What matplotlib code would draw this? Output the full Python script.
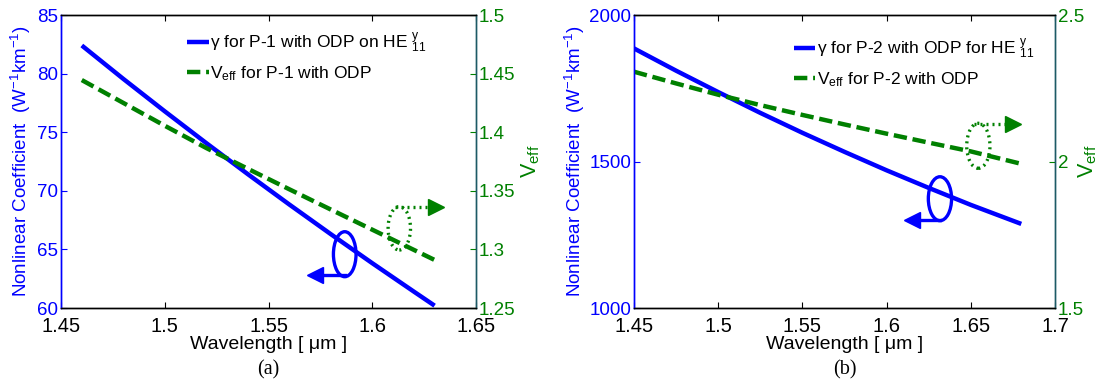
import matplotlib
matplotlib.use("Agg")
import matplotlib.pyplot as plt
from matplotlib.patches import Ellipse
from matplotlib.ticker import FuncFormatter, FixedLocator

plt.rcParams['font.family'] = ['Liberation Sans', 'DejaVu Sans']
plt.rcParams['mathtext.fontset'] = 'custom'
plt.rcParams['mathtext.rm'] = 'Liberation Sans'
plt.rcParams['mathtext.it'] = 'Liberation Sans:italic'
plt.rcParams['mathtext.bf'] = 'Liberation Sans:bold'

# ---------------- data ----------------
# panel (a)
wl_a = [1.46, 1.48, 1.50, 1.52, 1.54, 1.56, 1.58, 1.60, 1.62, 1.63]
gamma_a = [82.4, 79.55, 76.78, 74.07, 71.42, 68.83, 66.3, 63.82, 61.4, 60.2]
veff_a = [1.4445, 1.425, 1.4055, 1.3865, 1.3688, 1.3513, 1.334, 1.3168, 1.2996, 1.291]
# panel (b)
wl_b = [1.45, 1.475, 1.50, 1.525, 1.55, 1.575, 1.60, 1.625, 1.65, 1.68]
gamma_b = [1886, 1810, 1737, 1666, 1598, 1533, 1470, 1410, 1352, 1287]
veff_b = [2.3065, 2.2665, 2.228, 2.1925, 2.159, 2.1265, 2.095, 2.0645, 2.0345, 1.992]

xticks_a = [1.45, 1.5, 1.55, 1.6, 1.65]
yticks_a = [60, 65, 70, 75, 80, 85]
y2ticks_a = [1.25, 1.3, 1.35, 1.4, 1.45, 1.5]
xticks_b = [1.45, 1.5, 1.55, 1.6, 1.65, 1.7]
yticks_b = [1000, 1500, 2000]
y2ticks_b = [1.5, 2, 2.5]

leg_gamma_a = r"γ for P-1 with ODP on HE $^{\mathrm{y}}_{11}$"
leg_veff_a = r"V$_{\mathrm{eff}}$ for P-1 with ODP"
leg_gamma_b = r"γ for P-2 with ODP for HE $^{\mathrm{y}}_{11}$"
leg_veff_b = r"V$_{\mathrm{eff}}$ for P-2 with ODP"

BLUE = '#0000ff'
GREEN = '#008000'
SPINE_R = '#1d5a66'

fmt = FuncFormatter(lambda v, p: '%g' % v)

fig = plt.figure(figsize=(10.98, 3.81), dpi=100)


def make_panel(rect, wl, gam, veff, xt, yt, y2t, leg1, leg2, legpos, caption,
               ann, ylab_x, y2lab_x):
    ax1 = fig.add_axes(rect)
    ax2 = ax1.twinx()
    l1, = ax1.plot(wl, gam, color=BLUE, lw=3.2, solid_capstyle='butt')
    l2, = ax2.plot(wl, veff, color=GREEN, lw=3.2, dashes=[3.0, 1.3])
    ax1.set_xlim(xt[0], xt[-1])
    ax1.set_ylim(yt[0], yt[-1])
    ax2.set_ylim(y2t[0], y2t[-1])
    ax1.xaxis.set_major_locator(FixedLocator(xt))
    ax1.yaxis.set_major_locator(FixedLocator(yt))
    ax2.yaxis.set_major_locator(FixedLocator(y2t))
    for a in (ax1, ax2):
        a.xaxis.set_major_formatter(fmt)
        a.yaxis.set_major_formatter(fmt)
    ax1.tick_params(axis='x', direction='in', length=4, labelsize=14.5,
                    colors='black', pad=6.5, top=True)
    ax1.tick_params(axis='y', direction='in', length=4, labelsize=13.5,
                    colors=BLUE, pad=2, right=False)
    ax2.tick_params(axis='y', direction='in', length=4, labelsize=13.5,
                    colors=GREEN, pad=2)
    for a in (ax1, ax2):
        a.spines['left'].set_color(BLUE)
        a.spines['right'].set_color(SPINE_R)
        a.spines['top'].set_color('black')
        a.spines['bottom'].set_color('black')
        for s in a.spines.values():
            s.set_linewidth(1.0)
    ax1.set_xlabel("Wavelength [ μm ]", fontsize=14, labelpad=0)
    ax1.set_ylabel(r"Nonlinear Coefficient  (W$^{-1}$km$^{-1}$)", color=BLUE,
                   fontsize=13.5)
    ax1.yaxis.set_label_coords(ylab_x, 0.5)
    ax2.set_ylabel(r"V$_{\mathrm{eff}}$", color=GREEN, fontsize=15.5)
    ax2.yaxis.set_label_coords(y2lab_x, 0.5)
    ax2.legend([l1, l2], [leg1, leg2], loc='upper left', bbox_to_anchor=legpos,
               frameon=False, fontsize=12.5, handlelength=1.25,
               handletextpad=0.1, borderpad=0, borderaxespad=0,
               labelspacing=0.5)
    ax1.text(0.5, -0.178, caption, transform=ax1.transAxes, ha='center',
             va='top', fontsize=14.5, family='Liberation Serif')

    (bx, by, bw, bh, ay, ax_tip), (gx, gy, gw, gh, gay, gax_tip) = ann
    # blue loop + arrow (gamma axis)
    ax1.add_patch(Ellipse((bx, by), bw, bh, fill=False, ec=BLUE, lw=2.4,
                          zorder=5))
    ax1.plot([bx, ax_tip], [ay, ay], color=BLUE, lw=2.4, zorder=5)
    ax1.plot([ax_tip], [ay], marker='<', ms=11, color=BLUE, mec=BLUE, zorder=6)
    # green loop + arrow (Veff axis)
    ax2.add_patch(Ellipse((gx, gy), gw, gh, fill=False, ec=GREEN, lw=2.4,
                          ls=(0, (0.6, 1.2)), zorder=5))
    ax2.plot([gx - gw * 0.2, gax_tip], [gay, gay], color=GREEN, lw=2.4,
             ls=(0, (0.6, 1.2)), zorder=5)
    ax2.plot([gax_tip], [gay], marker='>', ms=11, color=GREEN, mec=GREEN,
             zorder=6)
    return ax1, ax2


ann_a = ((1.5867, 64.59, 0.0109, 3.84, 62.8, 1.5725),
         (1.613, 1.318, 0.0108, 0.037, 1.3364, 1.6305))
ann_b = ((1.6317, 1373, 0.0138, 150, 1300, 1.6150),
         (1.6545, 2.0536, 0.0138, 0.1536, 2.127, 1.675))

make_panel([0.0556, 0.1916, 0.378, 0.769], wl_a, gamma_a, veff_a,
           xticks_a, yticks_a, y2ticks_a, leg_gamma_a, leg_veff_a,
           (0.303, 0.945), "(a)", ann_a, -0.068, 1.105)
make_panel([0.5774, 0.1916, 0.3834, 0.769], wl_b, gamma_b, veff_b,
           xticks_b, yticks_b, y2ticks_b, leg_gamma_b, leg_veff_b,
           (0.379, 0.925), "(b)", ann_b, -0.112, 1.05)

fig.savefig("out.png", dpi=100)
